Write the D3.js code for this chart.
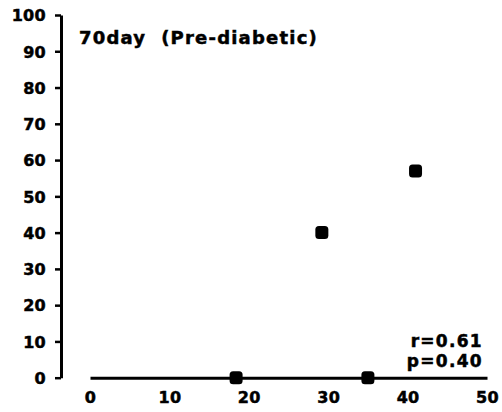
<!DOCTYPE html>
<html><head><meta charset="utf-8">
<script src="https://cdn.jsdelivr.net/npm/d3@7"></script>
<style>
html,body{margin:0;padding:0;background:#fff;}
svg{display:block;}
text{font-family:"DejaVu Sans",sans-serif;font-weight:bold;fill:#000;stroke:#000;stroke-width:0.5px;}
</style></head>
<body>
<svg id="c" width="502" height="412"></svg>
<script>
const title = "70day  (Pre-diabetic)";
const xValues = [18.4, 29.2, 35.0, 41.0];
const yValues = [0, 40, 0, 57];
const xTicks = [0, 10, 20, 30, 40, 50];
const yTicks = [0, 10, 20, 30, 40, 50, 60, 70, 80, 90, 100];
const stats = ["r=0.61", "p=0.40"];

const svg = d3.select("#c");
const x = d3.scaleLinear().domain([0, 50]).range([90, 487]);
const y = d3.scaleLinear().domain([0, 100]).range([377.7, 15]);

// y axis
const yAxis = svg.append("g").attr("transform", "translate(61,0)")
  .call(d3.axisLeft(y).tickValues(yTicks).tickSize(6).tickPadding(9).tickSizeOuter(0));
yAxis.select(".domain").attr("stroke", "#000").attr("stroke-width", 3);
yAxis.selectAll(".tick line").attr("stroke-width", 2.5);
yAxis.selectAll(".tick text").style("font-size", "16px").style("letter-spacing", "0.3px").attr("dy", "0.36em");

// x axis
const xAxis = svg.append("g").attr("transform", `translate(0,${y(0)})`)
  .call(d3.axisBottom(x).tickValues(xTicks).tickSize(0).tickPadding(14).tickSizeOuter(0));
xAxis.select(".domain").attr("stroke", "#000").attr("stroke-width", 3);
xAxis.selectAll(".tick text").style("font-size", "16px").style("letter-spacing", "0.3px");

// points
const pts = xValues.map((v, i) => ({x: v, y: yValues[i]}));
svg.append("g").selectAll("rect").data(pts).join("rect")
  .attr("x", d => x(d.x) - 6.5).attr("y", d => y(d.y) - 6.5)
  .attr("width", 13).attr("height", 13).attr("rx", 3.5).attr("fill", "#000");

// title
svg.append("text").attr("x", 79).attr("y", 44).style("font-size", "18px")
  .style("letter-spacing", "1.2px").style("white-space", "pre").text(title);

// stats
svg.append("g").selectAll("text").data(stats).join("text")
  .attr("x", 483).attr("y", (d, i) => 347 + i * 20).attr("text-anchor", "end")
  .style("font-size", "17px").style("letter-spacing", "1.3px").text(d => d);
</script>
</body></html>
